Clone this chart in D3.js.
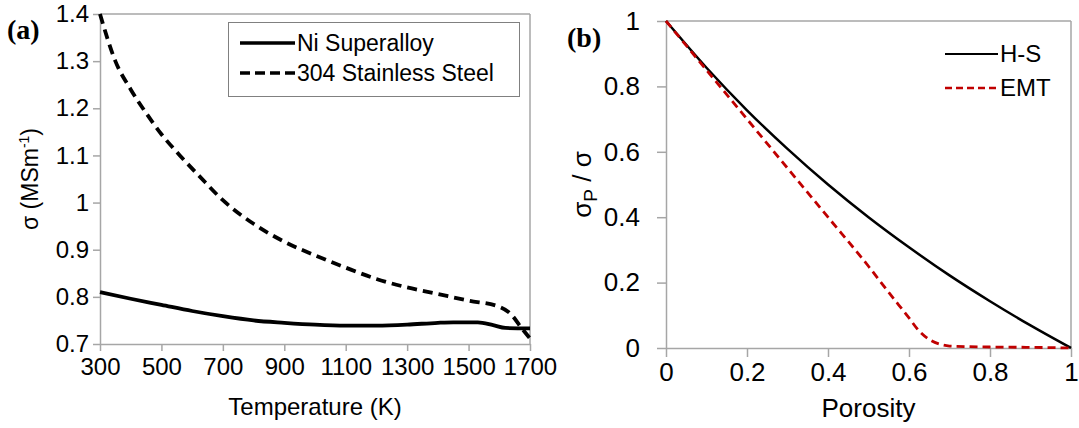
<!DOCTYPE html>
<html><head><meta charset="utf-8">
<script src="https://cdn.jsdelivr.net/npm/d3@7"></script>
<style>
body{margin:0;background:#fff;}
svg text{font-family:"Liberation Sans",Arial,sans-serif;fill:#000;}
svg text.panel{font-family:"Liberation Serif","Times New Roman",serif;font-weight:bold;}
</style></head>
<body><svg id="c" width="1079" height="428"></svg>
<script>
// ---- Panel (a) data ----
const tempTicks = [300,500,700,900,1100,1300,1500,1700];
const sigmaTicks = [0.7,0.8,0.9,1,1.1,1.2,1.3,1.4];
const niT   = [300,400,500,600,700,800,900,1000,1100,1200,1300,1400,1450,1530,1580,1620,1700];
const niS   = [0.81,0.796,0.783,0.770,0.759,0.750,0.745,0.741,0.739,0.739,0.741,0.745,0.746,0.746,0.740,0.734,0.733];
const ssT   = [300,350,400,450,500,560,625,700,800,900,1000,1100,1200,1300,1400,1500,1600,1640,1670,1700];
const ssS   = [1.40,1.30,1.24,1.19,1.145,1.10,1.055,1.005,0.955,0.917,0.888,0.862,0.838,0.820,0.806,0.792,0.779,0.762,0.736,0.712];
const legendA = ["Ni Superalloy","304 Stainless Steel"];
// ---- Panel (b) data ----
const porTicks = [0,0.2,0.4,0.6,0.8,1];
const ratioTicks = [0,0.2,0.4,0.6,0.8,1];
const hsP  = [0,0.1,0.2,0.3,0.4,0.5,0.6,0.7,0.8,0.9,1.0];
const hsV  = [1,0.857,0.727,0.609,0.5,0.4,0.308,0.222,0.143,0.069,0];
const emtP = [0,0.1,0.2,0.3,0.4,0.5,0.55,0.6,0.625,0.65,0.675,0.7,0.75,0.8,0.9,1.0];
const emtV = [1,0.85,0.70,0.55,0.40,0.25,0.17,0.092,0.052,0.026,0.012,0.006,0.004,0.003,0.002,0];
const legendB = ["H-S","EMT"];

const svg = d3.select("#c");
const axisColor = "#a6a6a6";

function styleAxis(g){
  g.select(".domain").attr("stroke",axisColor).attr("stroke-width",1.5);
  g.selectAll(".tick line").attr("stroke",axisColor).attr("stroke-width",1.5);
  g.selectAll(".tick text").attr("fill","#000");
}

// ================= Panel (a) =================
{
  const x = d3.scaleLinear().domain([300,1700]).range([100,530]);
  const y = d3.scaleLinear().domain([0.7,1.4]).range([344,14]);
  svg.append("line").attr("x1",x(300)).attr("x2",x(1700)).attr("y1",y(1.4)).attr("y2",y(1.4)).attr("stroke",axisColor).attr("stroke-width",1.5);
  svg.append("line").attr("x1",x(1700)).attr("x2",x(1700)).attr("y1",y(1.4)).attr("y2",y(0.7)).attr("stroke",axisColor).attr("stroke-width",1.5);
  const gx = svg.append("g").attr("transform",`translate(0,${y(0.7)})`)
    .call(d3.axisBottom(x).tickValues(tempTicks).tickFormat(d3.format("d")).tickSize(7).tickSizeOuter(0).tickPadding(7));
  styleAxis(gx);
  gx.selectAll(".tick text").style("font-size","24px");
  const gy = svg.append("g").attr("transform",`translate(${x(300)},0)`)
    .call(d3.axisLeft(y).tickValues(sigmaTicks).tickFormat(d=>String(+d.toFixed(1))).tickSize(7).tickSizeOuter(0).tickPadding(4));
  styleAxis(gy);
  gy.selectAll(".tick text").style("font-size","24px");

  const line = d3.line().curve(d3.curveMonotoneX);
  svg.append("path").attr("d",line(niT.map((t,i)=>[x(t),y(niS[i])])))
    .attr("fill","none").attr("stroke","#000").attr("stroke-width",3.8);
  svg.append("path").attr("d",line(ssT.map((t,i)=>[x(t),y(ssS[i])])))
    .attr("fill","none").attr("stroke","#000").attr("stroke-width",3.8).attr("stroke-dasharray","10,6");

  svg.append("text").attr("x",(x(300)+x(1700))/2).attr("y",415).attr("text-anchor","middle")
    .style("font-size","24px").text("Temperature (K)");
  const yt = svg.append("text").attr("transform",`translate(38,${(y(0.7)+y(1.4))/2}) rotate(-90)`)
    .attr("text-anchor","middle").style("font-size","23px");
  yt.append("tspan").text("σ (MSm");
  yt.append("tspan").style("font-size","14px").attr("dy",-9).text("-1");
  yt.append("tspan").attr("dy",9).text(")");

  svg.append("text").attr("class","panel").attr("x",7).attr("y",39).style("font-size","28px").text("(a)");

  svg.append("rect").attr("x",228.5).attr("y",22.5).attr("width",291).attr("height",74)
    .attr("fill","#fff").attr("stroke","#808080").attr("stroke-width",1);
  const ly = [43,73];
  legendA.forEach((name,i)=>{
    svg.append("line").attr("x1",240).attr("x2",295).attr("y1",ly[i]).attr("y2",ly[i])
      .attr("stroke","#000").attr("stroke-width",3.5).attr("stroke-dasharray",i?"10,5":null);
    svg.append("text").attr("x",297).attr("y",ly[i]+8).style("font-size","23px").text(name);
  });
}

// ================= Panel (b) =================
{
  const x = d3.scaleLinear().domain([0,1]).range([666,1071]);
  const y = d3.scaleLinear().domain([0,1]).range([348,21]);
  svg.append("line").attr("x1",x(0)).attr("x2",x(1)).attr("y1",y(1)).attr("y2",y(1)).attr("stroke",axisColor).attr("stroke-width",1.5);
  svg.append("line").attr("x1",x(1)).attr("x2",x(1)).attr("y1",y(1)).attr("y2",y(0)).attr("stroke",axisColor).attr("stroke-width",1.5);
  const gx = svg.append("g").attr("transform",`translate(0,${y(0)})`)
    .call(d3.axisBottom(x).tickValues(porTicks).tickFormat(d=>String(+d.toFixed(1))).tickSize(9).tickSizeOuter(0).tickPadding(6));
  styleAxis(gx);
  gx.selectAll(".tick text").style("font-size","26px");
  const gy = svg.append("g").attr("transform",`translate(${x(0)},0)`)
    .call(d3.axisLeft(y).tickValues(ratioTicks).tickFormat(d=>String(+d.toFixed(1))).tickSize(9).tickSizeOuter(0).tickPadding(17));
  styleAxis(gy);
  gy.selectAll(".tick text").style("font-size","26px");

  const line = d3.line().curve(d3.curveMonotoneX);
  svg.append("path").attr("d",line(hsP.map((p,i)=>[x(p),y(hsV[i])])))
    .attr("fill","none").attr("stroke","#000").attr("stroke-width",2.5);
  svg.append("path").attr("d",line(emtP.map((p,i)=>[x(p),y(emtV[i])])))
    .attr("fill","none").attr("stroke","#c00000").attr("stroke-width",2.8).attr("stroke-dasharray","8,5");

  svg.append("text").attr("x",(x(0)+x(1))/2).attr("y",417).attr("text-anchor","middle")
    .style("font-size","26px").text("Porosity");
  const yt = svg.append("text").attr("transform",`translate(591,${(y(0)+y(1))/2}) rotate(-90)`)
    .attr("text-anchor","middle").style("font-size","26px");
  yt.append("tspan").text("σ");
  yt.append("tspan").style("font-size","19px").attr("dy",6).text("P");
  yt.append("tspan").attr("dy",-6).text(" / σ");

  svg.append("text").attr("class","panel").attr("x",567).attr("y",47).style("font-size","28px").text("(b)");

  const ly = [54,88];
  legendB.forEach((name,i)=>{
    svg.append("line").attr("x1",945).attr("x2",998).attr("y1",ly[i]).attr("y2",ly[i])
      .attr("stroke",i?"#c00000":"#000").attr("stroke-width",i?2.5:2).attr("stroke-dasharray",i?"7,4":null);
    svg.append("text").attr("x",1000).attr("y",ly[i]+8).style("font-size","24px").text(name);
  });
}
</script></body></html>
